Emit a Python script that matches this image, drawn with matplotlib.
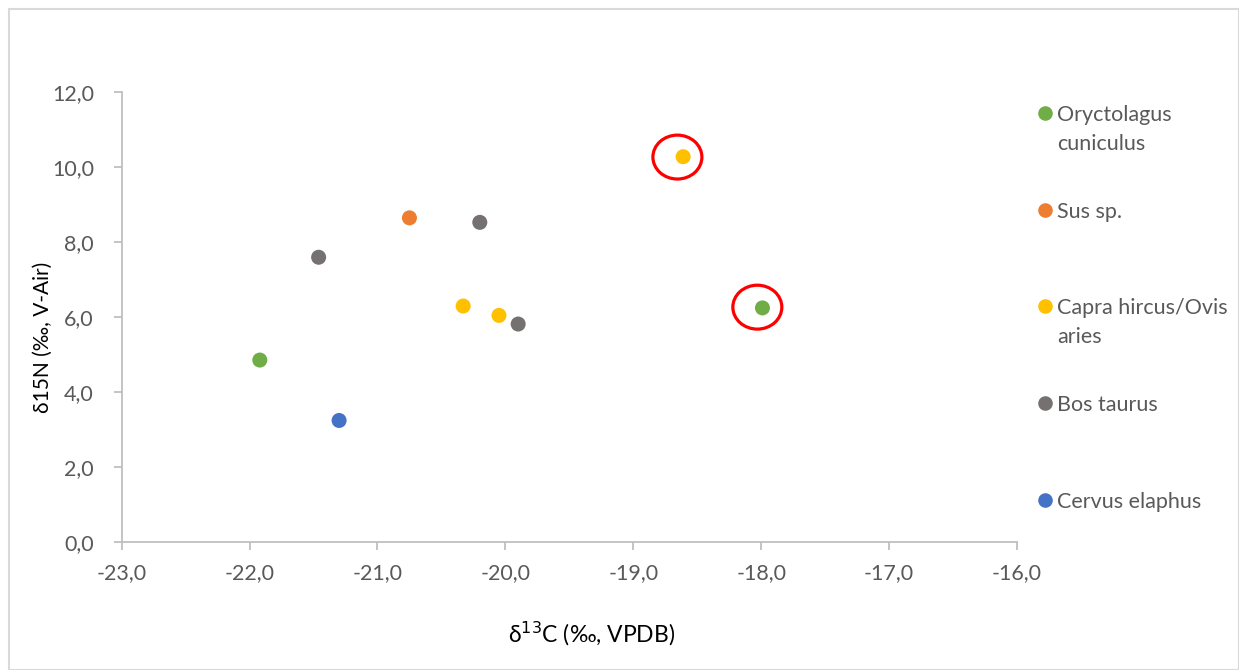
import matplotlib
matplotlib.use("Agg")
import matplotlib.pyplot as plt
from matplotlib.patches import Ellipse, Rectangle
from matplotlib.lines import Line2D

plt.rcParams['font.family'] = ['Lato', 'DejaVu Sans']

species = ["Oryctolagus\ncuniculus", "Sus sp.", "Capra hircus/Ovis\naries", "Bos taurus", "Cervus elaphus"]
colors = ["#70AD47", "#ED7D31", "#FFC000", "#767171", "#4472C4"]
d13C = [
    [-21.92, -17.99],
    [-20.75],
    [-18.61, -20.33, -20.05],
    [-21.46, -20.20, -19.90],
    [-21.30],
]
d15N = [
    [4.85, 6.24],
    [8.64],
    [10.27, 6.29, 6.04],
    [7.59, 8.52, 5.81],
    [3.24],
]
# highlighted samples (red ellipses)
hl_x = [-18.655, -18.03]
hl_y = [10.26, 6.26]

xticks = [-23, -22, -21, -20, -19, -18, -17, -16]
yticks = [0, 2, 4, 6, 8, 10, 12]

fig = plt.figure(figsize=(12.39, 6.70), dpi=100)
ax = fig.add_axes([0.0982, 0.191, 0.7226, 0.672])

tc = "#595959"
for xs, ys, c in zip(d13C, d15N, colors):
    ax.scatter(xs, ys, s=15**2 * 0.52, color=c, edgecolors='none', zorder=3)

for x, y in zip(hl_x, hl_y):
    ax.add_patch(Ellipse((x, y), 0.383, 1.17, fill=False, edgecolor="#FF0000", linewidth=2.3, zorder=4))

ax.set_xlim(-23, -16)
ax.set_ylim(0, 12)
ax.set_xticks(xticks)
ax.set_yticks(yticks)
fmt = lambda v: f"{v:.1f}".replace('.', ',')
ax.set_xticklabels([fmt(v) for v in xticks])
ax.set_yticklabels([fmt(v) for v in yticks])

for s in ['top', 'right']:
    ax.spines[s].set_visible(False)
for s in ['left', 'bottom']:
    ax.spines[s].set_color("#BFBFBF")
    ax.spines[s].set_linewidth(1.3)
ax.tick_params(axis='both', colors="#BFBFBF", labelcolor=tc, labelsize=15.5, length=6, width=1.3)
ax.tick_params(axis='x', pad=9)
ax.tick_params(axis='y', pad=14)

ax.set_xlabel("δ$^{13}$C (‰, VPDB)", fontsize=16.5, color="#000000", va='center')
ax.set_ylabel("δ15N (‰, V-Air)", fontsize=15, color="#000000", va='center', ha='center')
axw, axh = 0.7226 * 1239, 0.672 * 670
ax.xaxis.set_label_coords((592 - 121.7) / axw, (542 - 634) / axh)
ax.yaxis.set_label_coords((43 - 121.7) / axw, (542 - 337) / axh)

# legend drawn manually
leg_y = [113, 210, 306, 403, 500]
line_gap = 29
for lab, c, yp in zip(species, colors, leg_y):
    yf = 1 - yp / 670
    fig.add_artist(Line2D([1045 / 1239], [yf], marker='o', markersize=10.5, color=c,
                          markeredgecolor='none', linestyle='none', transform=fig.transFigure))
    for i, part in enumerate(lab.split("\n")):
        fig.text(1057 / 1239, 1 - (yp + i * line_gap) / 670, part, ha='left', va='center_baseline',
                 fontsize=15.5, color=tc, transform=fig.transFigure)

fig.add_artist(Rectangle((9 / 1239, 0), 1 - 9 / 1239, 1 - 9 / 670, transform=fig.transFigure,
                         fill=False, edgecolor="#D9D9D9", linewidth=1.5))

fig.savefig("out.png", dpi=100)
